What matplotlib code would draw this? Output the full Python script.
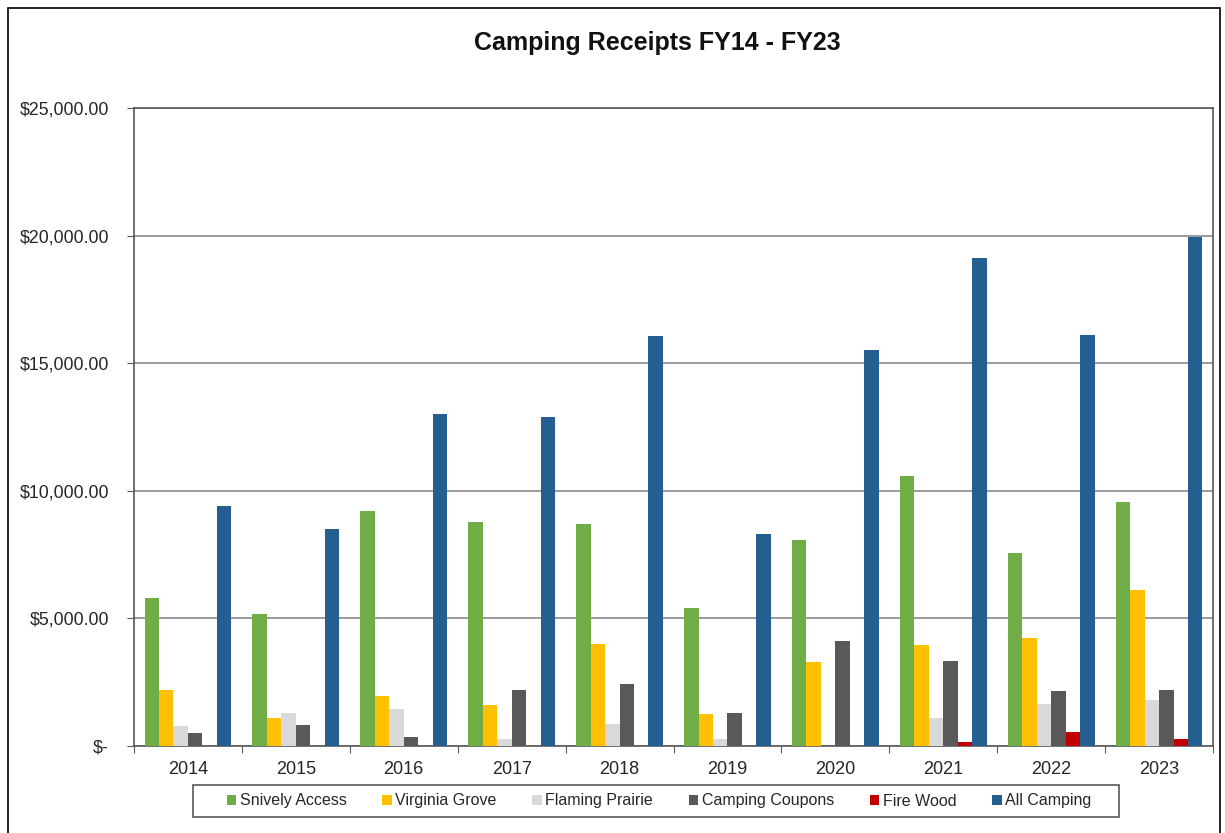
import matplotlib
matplotlib.use("Agg")
import matplotlib.pyplot as plt
from matplotlib.patches import Rectangle
from matplotlib.ticker import FixedLocator, NullFormatter, FuncFormatter
import numpy as np

plt.rcParams['font.family'] = ['Liberation Sans', 'DejaVu Sans']

years = ["2014", "2015", "2016", "2017", "2018", "2019", "2020", "2021", "2022", "2023"]
snively_access = [5800, 5170, 9200, 8770, 8700, 5400, 8070, 10570, 7570, 9570]
virginia_grove = [2200, 1100, 1960, 1610, 4000, 1250, 3300, 3950, 4240, 6130]
flaming_prairie = [800, 1300, 1450, 270, 860, 270, 0, 1110, 1640, 1810]
camping_coupons = [510, 830, 350, 2200, 2430, 1300, 4100, 3340, 2140, 2190]
fire_wood = [0, 0, 0, 0, 0, 0, 0, 150, 560, 260]
all_camping = [9420, 8490, 13010, 12890, 16080, 8320, 15530, 19140, 16100, 19950]

series_names = ["Snively Access", "Virginia Grove", "Flaming Prairie",
                "Camping Coupons", "Fire Wood", "All Camping"]
series_values = [snively_access, virginia_grove, flaming_prairie,
                 camping_coupons, fire_wood, all_camping]
colors = ["#70AD47", "#FFC000", "#D9D9D9", "#595959", "#C00000", "#255E91"]

W, H = 1225, 833
fig = plt.figure(figsize=(W / 100, H / 100), dpi=100)
fig.patch.set_facecolor("white")

# outer chart border
fig.add_artist(Rectangle((8 / W, -0.05), (1220 - 8) / W, 1.05 - 8 / H,
                         transform=fig.transFigure, fill=False,
                         edgecolor="black", linewidth=1.2))

ax = fig.add_axes([134 / W, 1 - 746 / H, (1213 - 134) / W, (746 - 108) / H])

x = np.arange(len(years))
bw = 0.134
for j, (name, vals, c) in enumerate(zip(series_names, series_values, colors)):
    ax.bar(x + (j - 2.5) * bw, vals, width=bw, color=c, label=name,
           linewidth=0, zorder=3)

ax.set_xlim(-0.5, len(years) - 0.5)
ax.set_ylim(0, 25000)
ax.set_yticks(np.arange(0, 25001, 5000))


def money(v, pos):
    if v == 0:
        return "$-"
    return "${:,.2f}".format(v)


ax.yaxis.set_major_formatter(FuncFormatter(money))
ax.xaxis.set_major_locator(FixedLocator(np.arange(-0.5, len(years), 1.0)))
ax.xaxis.set_major_formatter(NullFormatter())
ax.xaxis.set_minor_locator(FixedLocator(x))
ax.set_xticklabels(years, minor=True)
ax.tick_params(axis="x", which="minor", length=0, pad=11, labelsize=13,
               labelcolor="#262626")
ax.tick_params(axis="x", which="major", length=5, direction="out", color="#595959")
ax.tick_params(axis="y", length=5, direction="out", color="#595959",
               labelsize=12.8, pad=13, labelcolor="#262626")

ax.grid(axis="y", color="#7F7F7F", linewidth=1.1, zorder=0)
ax.set_axisbelow(True)
for s in ax.spines.values():
    s.set_color("#595959")
    s.set_linewidth(1.2)

fig.text(657 / W, 1 - 43 / H, "Camping Receipts FY14 - FY23", ha="center", va="center",
         fontsize=18, fontweight="bold", color="#111111")

leg = fig.legend(loc="center", bbox_to_anchor=(659 / W, 1 - 801 / H), ncol=6,
                 fontsize=11.5, frameon=False, handlelength=0.6,
                 handleheight=0.6, handletextpad=0.2, columnspacing=2.25,
                 borderpad=0.45, labelcolor="#262626")
# legend frame
fig.add_artist(Rectangle((193 / W, 1 - 817 / H), (1119 - 193) / W, 32 / H,
                         transform=fig.transFigure, fill=False,
                         edgecolor="#595959", linewidth=1.2))

fig.savefig("out.png", dpi=100, facecolor="white")
